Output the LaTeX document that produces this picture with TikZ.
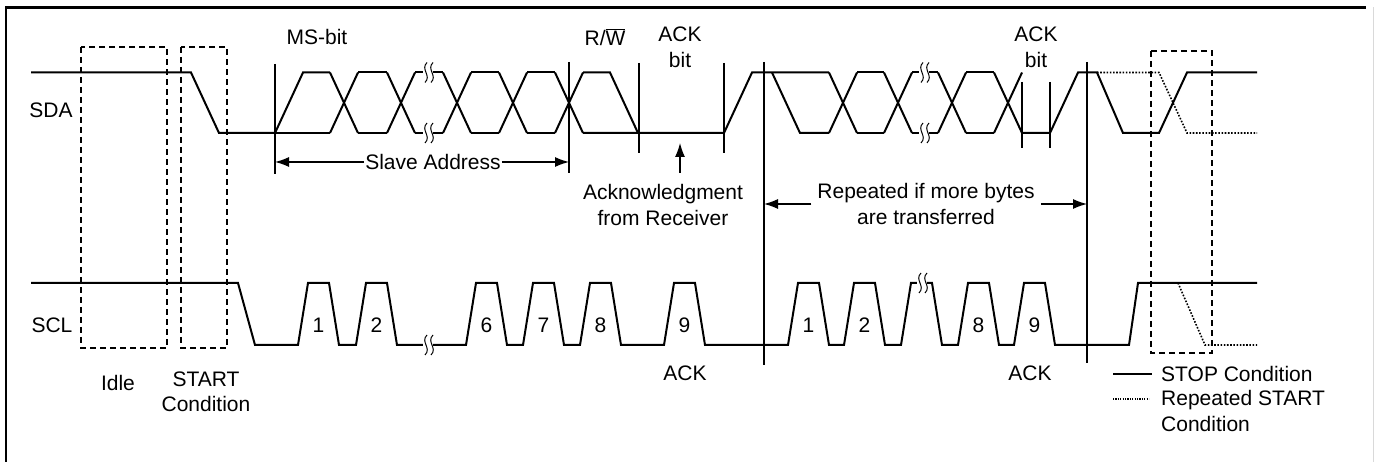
\documentclass[tikz,border=0pt]{standalone}
\usepackage{fontspec}
\setmainfont{Liberation Sans}
\usetikzlibrary{arrows.meta}
\begin{document}
\begin{tikzpicture}[x=1pt,y=-1pt,
  sig/.style={line width=2pt},
  dots/.style={line width=1.6pt, dash pattern=on 1.6pt off 1.6pt},
  vline/.style={line width=1.2pt},
  dbox/.style={line width=2pt, dash pattern=on 6pt off 4pt},
  lbl/.style={font=\fontsize{21}{25.5}\selectfont, inner sep=1pt, align=center},
  arr/.style={line width=1.2pt, -{Latex[length=14pt,width=10pt]}},
  brk/.pic={
    \fill[white] (-5,-4) rectangle (5,4);
    \draw[line width=1pt] (-1,-10) .. controls (-8,-3) and (4,3) .. (-3,10);
    \draw[line width=1pt] (5,-10) .. controls (-2,-3) and (10,3) .. (3,10);
  }
]
\useasboundingbox (0,0) rectangle (1374,462);
% frame
\draw[line width=2.5pt] (6,462) -- (6,7.5) -- (1366,7.5);
\draw[black!15, line width=1pt] (1373,7.5) -- (1373,462);

% dashed boxes
\draw[dbox] (81,47) rectangle (167,348);
\draw[dbox] (181,47) rectangle (227,348);
\draw[dbox] (1151,51) rectangle (1212,353);

% ---------- SDA ----------
\draw[sig] (31,72.5) -- (191,72.5) -- (219,133) -- (275,133);
% first byte
\draw[sig] (275,133) -- (303,72.5) -- (330,72.5);
\draw[sig] (275,133) -- (330,133);
\foreach \c in {344,401,457,513,569}{
  \draw[sig] (\c-14,72.5) -- (\c+14,133);
  \draw[sig] (\c-14,133) -- (\c+14,72.5);
}
\foreach \a/\b in {358/387,415/443,471/499,527/555}{
  \draw[sig] (\a,72.5) -- (\b,72.5);
  \draw[sig] (\a,133) -- (\b,133);
}
\draw[sig] (583,72.5) -- (610,72.5) -- (638,133);
\draw[sig] (583,133) -- (724,133) -- (752,72.5) -- (829,72.5);
\draw[sig] (772,72.5) -- (800,133) -- (829,133);
% second byte
\foreach \c in {843,898,952,1008}{
  \draw[sig] (\c-14,72.5) -- (\c+14,133);
  \draw[sig] (\c-14,133) -- (\c+14,72.5);
}
\foreach \a/\b in {857/884,912/938,966/994}{
  \draw[sig] (\a,72.5) -- (\b,72.5);
  \draw[sig] (\a,133) -- (\b,133);
}
\draw[sig] (1022,133) -- (1050,133) -- (1078,72.5) -- (1097,72.5) -- (1123,133)
  -- (1159,133) -- (1187,72.5) -- (1257,72.5);
\draw[dots] (1097,72.5) -- (1159,72.5) -- (1187,133) -- (1257,133);
% breaks
\pic at (428,72.5) {brk};
\pic at (428,133) {brk};
\pic at (924,72.5) {brk};
\pic at (924,133) {brk};

% ---------- SCL ----------
\draw[sig] (31,283) -- (238,283) -- (255,345)
  -- (298,345) -- (308,283) -- (329,283) -- (339,345)
  -- (356,345) -- (366,283) -- (387,283) -- (397,345)
  -- (466,345) -- (476,283) -- (497,283) -- (507,345)
  -- (523,345) -- (533,283) -- (554,283) -- (564,345)
  -- (580,345) -- (590,283) -- (611,283) -- (621,345)
  -- (664,345) -- (674,283) -- (695,283) -- (705,345)
  -- (788,345) -- (798,283) -- (819,283) -- (829,345)
  -- (844,345) -- (854,283) -- (875,283) -- (885,345)
  -- (901,345) -- (911,283) -- (932,283) -- (942,345)
  -- (958,345) -- (968,283) -- (989,283) -- (999,345)
  -- (1014,345) -- (1024,283) -- (1045,283) -- (1055,345)
  -- (1129,345) -- (1138,283) -- (1257,283);
\draw[dots] (1178,283) -- (1205,345) -- (1257,345);
\pic at (428,345) {brk};
\pic at (922,283) {brk};

% pulse numbers
\foreach \x/\n [count=\i] in {318.5/1,376.5/2,486.5/6,543.5/7,600.5/8,684.5/9,808.5/1,864.5/2,978.5/8,1034.5/9}{
  \node[lbl] (num\i) at (\x,325) {\n};
}

% vertical markers
\draw[vline] (275,64) -- (275,174);
\draw[vline] (569,62) -- (569,173);
\draw[vline] (639,63) -- (639,153);
\draw[vline] (724,63) -- (724,153);
\draw[vline] (764,62) -- (764,365);
\draw[vline] (1087,62) -- (1087,363);
\draw[vline] (1022,82) -- (1022,148);
\draw[vline] (1050,82) -- (1050,148);

% labels
\node[lbl] (sda) at (51,110) {SDA};
\node[lbl] (scl) at (52,325) {SCL};
\node[lbl] (idle) at (118,383) {Idle};
\node[lbl] (start) at (206,392) {START\\Condition};
\node[lbl] (msbit) at (317,37) {MS-bit};
\node[lbl] (rw) at (605,37) {R/$\overline{\hbox{W}}$};
\node[lbl] (ackbit1) at (680,47.5) {ACK\\bit};
\node[lbl] (ackbit2) at (1036,47.5) {ACK\\bit};
\node[lbl] (ack1) at (685,373) {ACK};
\node[lbl] (ack2) at (1030,373) {ACK};

% slave address
\coordinate (saL) at (275,162);
\coordinate (saR) at (569,162);
\node[lbl] (sa) at (433,162) {Slave Address};
\draw[arr] (sa.west) -- (saL);
\draw[arr] (sa.east) -- (saR);

% acknowledgment
\node[lbl] (ackrx) at (663,205) {Acknowledgment\\from Receiver};
\coordinate (ackbase) at (680,173);
\coordinate (acktip) at (680,143);
\draw[arr] (ackbase) -- (acktip);

% repeated
\node[lbl, inner xsep=6pt] (rep) at (926,204) {Repeated if more bytes\\are transferred};
\coordinate (repL) at (764,204);
\coordinate (repR) at (1087,204);
\draw[arr] (rep.west) -- (repL);
\draw[arr] (rep.east) -- (repR);

% legend
\coordinate (lg1a) at (1113,374);
\coordinate (lg1b) at (1152,374);
\coordinate (lg2a) at (1113,399);
\coordinate (lg2b) at (1149,399);
\draw[line width=1.5pt] (lg1a) -- (lg1b);
\draw[line width=1.2pt, dash pattern=on 1.2pt off 1.2pt] (lg2a) -- (lg2b);
\node[lbl, anchor=west] (stop) at (1160,374) {STOP Condition};
\node[lbl, anchor=west, align=left] (rstart) at (1160,411) {Repeated START\\Condition};
\end{tikzpicture}
\end{document}
